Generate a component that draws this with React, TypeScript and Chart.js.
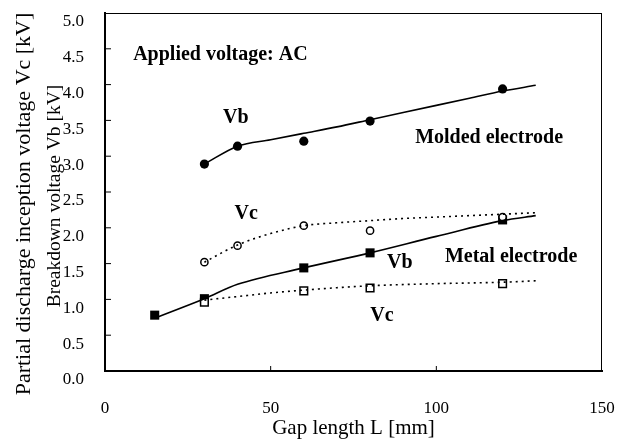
import React, { useEffect, useRef } from "react";
import { Chart, registerables } from "chart.js";

Chart.register(...registerables);

// Measured points
const moldedGap = [30, 40, 60, 80, 120];
const moldedVb = [2.89, 3.14, 3.21, 3.49, 3.94];
const moldedVc = [1.52, 1.75, 2.03, 1.96, 2.15];
const metalVbGap = [15, 30, 60, 80, 120];
const metalVb = [0.78, 1.01, 1.44, 1.65, 2.11];
const metalVcGap = [30, 60, 80, 120];
const metalVc = [0.96, 1.12, 1.16, 1.22];

// Fitted curves
const moldedVbFitGap = [30, 40, 50, 60, 70, 80, 90, 100, 110, 120, 130];
const moldedVbFit = [2.89, 3.14, 3.23, 3.32, 3.41, 3.51, 3.61, 3.71, 3.81, 3.91, 3.99];
const moldedVcFitGap = [30, 40, 50, 60, 70, 80, 90, 100, 110, 120, 130];
const moldedVcFit = [1.52, 1.76, 1.92, 2.03, 2.07, 2.1, 2.13, 2.15, 2.17, 2.19, 2.21];
const metalVbFitGap = [15, 30, 40, 60, 80, 100, 120, 130];
const metalVbFit = [0.74, 1.01, 1.21, 1.44, 1.65, 1.88, 2.1, 2.17];
const metalVcFitGap = [30, 40, 50, 60, 80, 100, 120, 130];
const metalVcFit = [0.99, 1.04, 1.09, 1.13, 1.19, 1.22, 1.24, 1.26];

// Axis ticks
const xTicks = [0, 50, 100, 150];
const yTicks = [0, 0.5, 1, 1.5, 2, 2.5, 3, 3.5, 4, 4.5, 5];

// Axis titles
const xTitle = "Gap length L [mm]";
const yTitleOuter = "Partial discharge inception voltage Vc [kV]";
const yTitleInner = "Breakdown voltage Vb [kV]";

// Text annotations (in data coordinates)
const noteTexts = ["Applied voltage: AC", "Vb", "Molded electrode", "Vc", "Vb", "Metal electrode", "Vc"];
const noteX = [8.5, 39.5, 93.6, 42.6, 89, 102.6, 83.6];
const noteY = [4.41, 3.53, 3.25, 2.19, 1.51, 1.59, 0.77];
const noteAlign = ["left", "center", "left", "center", "center", "left", "center"];

const FONT = "'Liberation Serif', 'Times New Roman', serif";

const pts = (xs: number[], ys: number[]) => xs.map((x, i) => ({ x, y: ys[i] }));

const zeroPad = (s: any) => {
  s.paddingTop = 0;
  s.paddingBottom = 0;
  s.paddingLeft = 0;
  s.paddingRight = 0;
};

const framePlugin = {
  id: "frameTicksNotes",
  afterDraw(chart: any) {
    const { ctx, chartArea } = chart;
    const { left, right, top, bottom } = chartArea;
    const xs = chart.scales.x;
    const ys = chart.scales.y;
    ctx.save();
    ctx.strokeStyle = "#000";
    ctx.lineWidth = 1;
    ctx.beginPath();
    ctx.moveTo(left, top + 0.5);
    ctx.lineTo(right, top + 0.5);
    ctx.moveTo(right - 0.5, top);
    ctx.lineTo(right - 0.5, bottom);
    xTicks.forEach((v) => {
      const px = xs.getPixelForValue(v);
      if (px > left + 2 && px < right - 2) {
        ctx.moveTo(px, bottom);
        ctx.lineTo(px, bottom - 5);
      }
    });
    yTicks.forEach((v) => {
      const py = ys.getPixelForValue(v);
      if (py > top + 2 && py < bottom - 2) {
        ctx.moveTo(left, py);
        ctx.lineTo(left + 6, py);
      }
    });
    ctx.stroke();

    ctx.fillStyle = "#000";
    ctx.font = `bold 20px ${FONT}`;
    ctx.textBaseline = "middle";
    noteTexts.forEach((t, i) => {
      ctx.textAlign = noteAlign[i] as CanvasTextAlign;
      ctx.fillText(t, xs.getPixelForValue(noteX[i]), ys.getPixelForValue(noteY[i]));
    });

    // Y-axis titles (two lines, rotated)
    const midY = (top + bottom) / 2;
    ctx.textAlign = "center";
    ctx.save();
    ctx.translate(24, midY + 12);
    ctx.rotate(-Math.PI / 2);
    ctx.font = `22px ${FONT}`;
    ctx.fillText(yTitleOuter, 0, 0);
    ctx.restore();
    ctx.save();
    ctx.translate(55, midY + 4);
    ctx.rotate(-Math.PI / 2);
    ctx.font = `19.5px ${FONT}`;
    ctx.fillText(yTitleInner, 0, 0);
    ctx.restore();
    ctx.restore();
  },
};

export default function App() {
  const ref = useRef<HTMLCanvasElement | null>(null);
  useEffect(() => {
    if (!ref.current) return;
    const solid = { borderColor: "#000", borderWidth: 1.6, pointRadius: 0, fill: false, cubicInterpolationMode: "monotone" as const };
    const dotted = { ...solid, borderWidth: 1.6, borderDash: [2, 4] };
    const chart = new Chart(ref.current, {
      type: "line",
      data: {
        datasets: [
          { label: "Molded Vb fit", data: pts(moldedVbFitGap, moldedVbFit), ...solid },
          { label: "Molded Vc fit", data: pts(moldedVcFitGap, moldedVcFit), ...dotted },
          { label: "Metal Vb fit", data: pts(metalVbFitGap, metalVbFit), ...solid },
          { label: "Metal Vc fit", data: pts(metalVcFitGap, metalVcFit), ...dotted },
          {
            label: "Molded Vc",
            data: pts(moldedGap, moldedVc),
            showLine: false,
            pointStyle: "circle",
            pointRadius: 3.6,
            pointBackgroundColor: "#fff",
            pointBorderColor: "#000",
            pointBorderWidth: 1.5,
          },
          {
            label: "Metal Vc",
            data: pts(metalVcGap, metalVc),
            showLine: false,
            pointStyle: "rect",
            pointRadius: 5.4,
            pointBackgroundColor: "#fff",
            pointBorderColor: "#000",
            pointBorderWidth: 1.5,
          },
          {
            label: "Molded Vb",
            data: pts(moldedGap, moldedVb),
            showLine: false,
            pointStyle: "circle",
            pointRadius: 4.6,
            pointBackgroundColor: "#000",
            pointBorderColor: "#000",
            pointBorderWidth: 0,
          },
          {
            label: "Metal Vb",
            data: pts(metalVbGap, metalVb),
            showLine: false,
            pointStyle: "rect",
            pointRadius: 6.4,
            pointBackgroundColor: "#000",
            pointBorderColor: "#000",
            pointBorderWidth: 0,
          },
        ],
      },
      options: {
        animation: false,
        responsive: false,
        devicePixelRatio: 1,
        layout: { padding: { left: 0, top: 13, right: 25, bottom: 0 } },
        plugins: { legend: { display: false }, tooltip: { enabled: false } },
        scales: {
          x: {
            type: "linear",
            min: 0,
            max: 150,
            afterBuildTicks: (s: any) => {
              s.ticks = xTicks.map((v) => ({ value: v }));
            },
            ticks: { color: "#000", padding: 27, font: { family: FONT, size: 17 } },
            grid: { drawOnChartArea: false, drawTicks: false },
            border: { color: "#000", width: 2 },
            title: {
              display: true,
              text: xTitle,
              color: "#000",
              font: { family: FONT, size: 21 },
              padding: { top: 0, bottom: 0 },
            },
            afterFit: (s: any) => {
              s.height = 70;
              zeroPad(s);
            },
          },
          y: {
            type: "linear",
            min: 0,
            max: 5,
            afterBuildTicks: (s: any) => {
              s.ticks = yTicks.map((v) => ({ value: v }));
            },
            ticks: {
              color: "#000",
              padding: 21,
              labelOffset: 9,
              font: { family: FONT, size: 17 },
              callback: (v: any) => Number(v).toFixed(1),
            },
            grid: { drawOnChartArea: false, drawTicks: false },
            border: { color: "#000", width: 2 },
            title: { display: false },
            afterFit: (s: any) => {
              s.width = 105;
              zeroPad(s);
            },
          },
        },
      },
      plugins: [framePlugin],
    });
    return () => chart.destroy();
  }, []);
  return (
    <div style={{ position: "fixed", left: 0, top: 0, width: 627, height: 441, background: "#fff" }}>
      <canvas ref={ref} width={627} height={441} style={{ display: "block", width: 627, height: 441 }} />
    </div>
  );
}
